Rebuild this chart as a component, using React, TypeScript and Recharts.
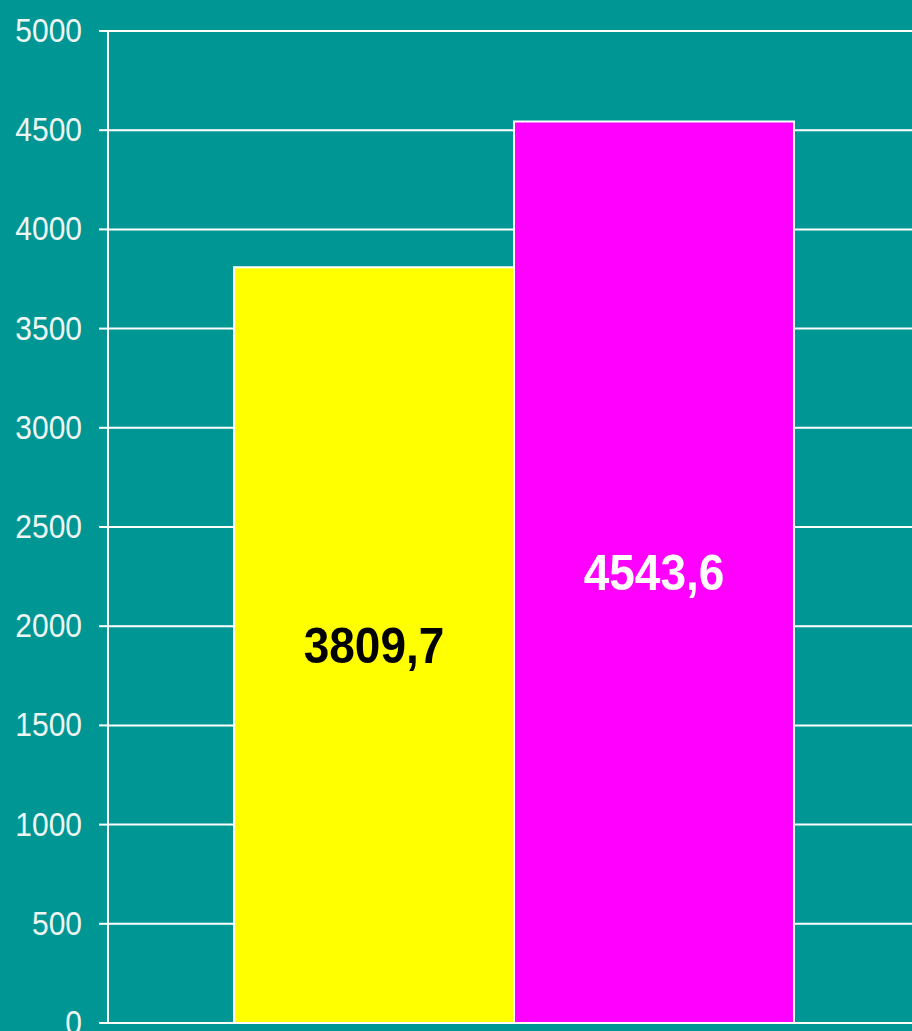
import { Bar, BarChart, CartesianGrid, LabelList, XAxis, YAxis } from "recharts";

const categories = [""];
const yellowValues = [3809.7];
const magentaValues = [4543.6];
const yTicks = [0, 500, 1000, 1500, 2000, 2500, 3000, 3500, 4000, 4500, 5000];

const data = categories.map((name, i) => ({
  name,
  yellow: yellowValues[i],
  magenta: magentaValues[i],
}));

const TEAL = "#009693";

// the source picture is stretched a bit vertically, so text gets a y-scale
function YTick(props: any) {
  const { x, y, payload } = props;
  return (
    <text
      transform={`translate(${x},${y}) scale(1,1.09)`}
      textAnchor="end"
      dominantBaseline="central"
      fill="#eef6f5"
      fontFamily="Arial, 'Liberation Sans', sans-serif"
      fontSize={30}
    >
      {payload.value}
    </text>
  );
}

function makeLabel(color: string) {
  return (props: any) => {
    const { x, y, width, height, value } = props;
    const cx = Number(x) + Number(width) / 2;
    const cy = Number(y) + Number(height) / 2;
    return (
      <text
        transform={`translate(${cx},${cy}) scale(1,1.1)`}
        textAnchor="middle"
        dominantBaseline="central"
        fill={color}
        fontFamily="Arial, 'Liberation Sans', sans-serif"
        fontWeight="bold"
        fontSize={46}
      >
        {String(value).replace(".", ",")}
      </text>
    );
  };
}

export default function App() {
  return (
    <div
      style={{
        position: "fixed",
        left: 0,
        top: 0,
        width: 912,
        height: 1031,
        overflow: "hidden",
        background: TEAL,
      }}
    >
      <BarChart
        width={920}
        height={1060}
        data={data}
        margin={{ top: 31, right: 0, left: 0, bottom: 37 }}
        barCategoryGap={126}
        barGap={0}
      >
        <CartesianGrid
          vertical={false}
          stroke="#ffffff"
          strokeWidth={2}
        />
        <XAxis dataKey="name" hide />
        <YAxis
          width={108}
          domain={[0, 5000]}
          ticks={yTicks}
          interval={0}
          tickSize={9}
          tickMargin={17}
          axisLine={{ stroke: "#ffffff", strokeWidth: 2 }}
          tickLine={{ stroke: "#ffffff", strokeWidth: 2 }}
          tick={<YTick />}
        />
        <Bar
          dataKey="yellow"
          fill="#ffff00"
          stroke="#ffffff"
          strokeWidth={2}
          isAnimationActive={false}
        >
          <LabelList dataKey="yellow" content={makeLabel("#000000")} />
        </Bar>
        <Bar
          dataKey="magenta"
          fill="#ff00ff"
          stroke="#ffffff"
          strokeWidth={2}
          isAnimationActive={false}
        >
          <LabelList dataKey="magenta" content={makeLabel("#ffffff")} />
        </Bar>
      </BarChart>
    </div>
  );
}
